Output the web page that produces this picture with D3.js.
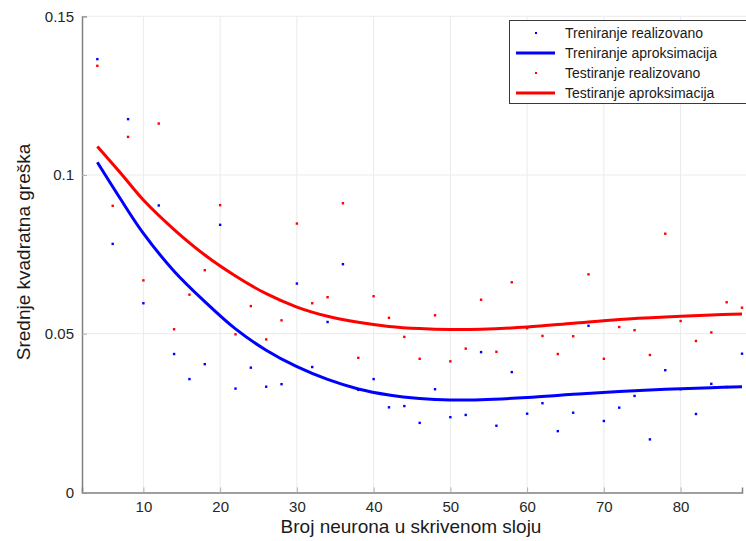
<!DOCTYPE html>
<html><head><meta charset="utf-8">
<script src="https://cdn.jsdelivr.net/npm/d3@7"></script>
<style>body{margin:0;background:#fff}svg{display:block}text{font-family:"Liberation Sans",Arial,sans-serif}</style>
</head><body>
<svg id="c" width="746" height="541"></svg>
<script>
const xPoints = [4,6,8,10,12,14,16,18,20,22,24,26,28,30,32,34,36,38,40,42,44,46,48,50,52,54,56,58,60,62,64,66,68,70,72,74,76,78,80,82,84,86,88];
const trainReal = [0.1365,0.0783,0.1176,0.0596,0.0904,0.0436,0.0357,0.0404,0.0843,0.0327,0.0393,0.0333,0.0341,0.0658,0.0395,0.0537,0.0719,0.0323,0.0357,0.0268,0.0272,0.0219,0.0325,0.0237,0.0244,0.0442,0.0210,0.0379,0.0248,0.0281,0.0193,0.0251,0.0525,0.0225,0.0267,0.0304,0.0167,0.0385,0.0325,0.0247,0.0342,0.0332,0.0437];
const testReal = [0.1344,0.0903,0.1120,0.0668,0.1162,0.0514,0.0623,0.0700,0.0905,0.0498,0.0587,0.0482,0.0542,0.0847,0.0596,0.0615,0.0911,0.0424,0.0618,0.0550,0.0490,0.0421,0.0558,0.0413,0.0453,0.0607,0.0443,0.0662,0.0517,0.0493,0.0436,0.0492,0.0687,0.0421,0.0521,0.0511,0.0433,0.0815,0.0540,0.0477,0.0504,0.0599,0.0582];
const xFit = [4,7,10,14,18,22,26,30,34,38,42,46,50,54,60,66,72,78,84,88];
const trainFit = [0.1040,0.0925,0.0816,0.0697,0.0601,0.0515,0.0448,0.0396,0.0356,0.0326,0.0307,0.0296,0.0291,0.0292,0.0299,0.0309,0.0318,0.0325,0.0330,0.0333];
const testFit = [0.1090,0.1007,0.0921,0.0828,0.0748,0.0682,0.0626,0.0584,0.0555,0.0536,0.0523,0.0516,0.0513,0.0514,0.0521,0.0533,0.0545,0.0553,0.0559,0.0562];
const xTicks = [10,20,30,40,50,60,70,80];
const yTicks = [0,0.05,0.1,0.15];
const yTickLabels = ["0","0.05","0.1","0.15"];
const legendLabels = ["Treniranje realizovano","Treniranje aproksimacija","Testiranje realizovano","Testiranje aproksimacija"];

const svg = d3.select("#c");
const L=82, R=742, T=16.3, B=492.4;
const x = d3.scaleLinear().domain([2,88]).range([L,R]);
const y = d3.scaleLinear().domain([0,0.15]).range([B,T]);

// grid
svg.append("g").selectAll("line").data(xTicks).join("line")
  .attr("x1",d=>x(d)).attr("x2",d=>x(d)).attr("y1",T).attr("y2",B)
  .attr("stroke","#ebebeb").attr("stroke-width",1);
svg.append("g").selectAll("line").data(yTicks.slice(1)).join("line")
  .attr("x1",L).attr("x2",R+4).attr("y1",d=>y(d)).attr("y2",d=>y(d))
  .attr("stroke","#ebebeb").attr("stroke-width",1);

// axes
const xAxis = d3.axisBottom(x).tickValues(xTicks).tickSize(-5).tickPadding(9).tickFormat(d3.format("d"));
const gx = svg.append("g").attr("transform",`translate(0,${B})`).call(xAxis);
gx.select(".domain").attr("stroke","#808080").attr("stroke-width",1.5);
gx.selectAll(".tick line").attr("stroke","#b0b0b0");
gx.selectAll("text").attr("font-size",15).attr("fill","#262626").attr("font-family","Liberation Sans, Arial, sans-serif");

const yAxis = d3.axisLeft(y).tickValues(yTicks).tickSize(-5).tickPadding(8).tickFormat((d,i)=>yTickLabels[i]);
const gy = svg.append("g").attr("transform",`translate(${L},0)`).call(yAxis);
gy.select(".domain").attr("stroke","#808080").attr("stroke-width",1.5);
gy.selectAll(".tick line").attr("stroke","#b0b0b0");
gy.selectAll("text").attr("font-size",15).attr("fill","#262626").attr("font-family","Liberation Sans, Arial, sans-serif");

// labels
svg.append("text").attr("x",411).attr("y",533).attr("text-anchor","middle")
  .attr("font-size",19).attr("fill","#1a1a1a").text("Broj neurona u skrivenom sloju");
svg.append("text").attr("transform","translate(30,252) rotate(-90)").attr("text-anchor","middle")
  .attr("font-size",19).attr("fill","#1a1a1a").text("Srednje kvadratna greška");

// fit lines
const line = d3.line().x(d=>x(d[0])).y(d=>y(d[1])).curve(d3.curveCatmullRom.alpha(0.5));
svg.append("path").datum(xFit.map((v,i)=>[v,testFit[i]])).attr("d",line)
  .attr("fill","none").attr("stroke","#ff0000").attr("stroke-width",3);
svg.append("path").datum(xFit.map((v,i)=>[v,trainFit[i]])).attr("d",line)
  .attr("fill","none").attr("stroke","#0000ff").attr("stroke-width",3);

// points
svg.append("g").selectAll("rect").data(xPoints.map((v,i)=>[v,trainReal[i]])).join("rect")
  .attr("x",d=>x(d[0])-1.2).attr("y",d=>y(d[1])-1.2).attr("width",2.4).attr("height",2.4).attr("fill","#0000ff");
svg.append("g").selectAll("rect").data(xPoints.map((v,i)=>[v,testReal[i]])).join("rect")
  .attr("x",d=>x(d[0])-1.2).attr("y",d=>y(d[1])-1.2).attr("width",2.4).attr("height",2.4).attr("fill","#ff0000");

// legend
const lg = svg.append("g");
lg.append("rect").attr("x",509.5).attr("y",20.5).attr("width",240).attr("height",83)
  .attr("fill","#fff").attr("stroke","#3a3a3a").attr("stroke-width",1);
const colors = ["#0000ff","#0000ff","#ff0000","#ff0000"];
legendLabels.forEach((t,i)=>{
  const yy = 33 + i*20;
  if(i%2===0){
    lg.append("rect").attr("x",535).attr("y",yy-1).attr("width",2).attr("height",2).attr("fill",colors[i]);
  } else {
    lg.append("line").attr("x1",516).attr("x2",555).attr("y1",yy).attr("y2",yy)
      .attr("stroke",colors[i]).attr("stroke-width",3);
  }
  lg.append("text").attr("x",565).attr("y",yy+5).attr("font-size",14).attr("fill","#1a1a1a").text(t);
});
</script>
</body></html>
